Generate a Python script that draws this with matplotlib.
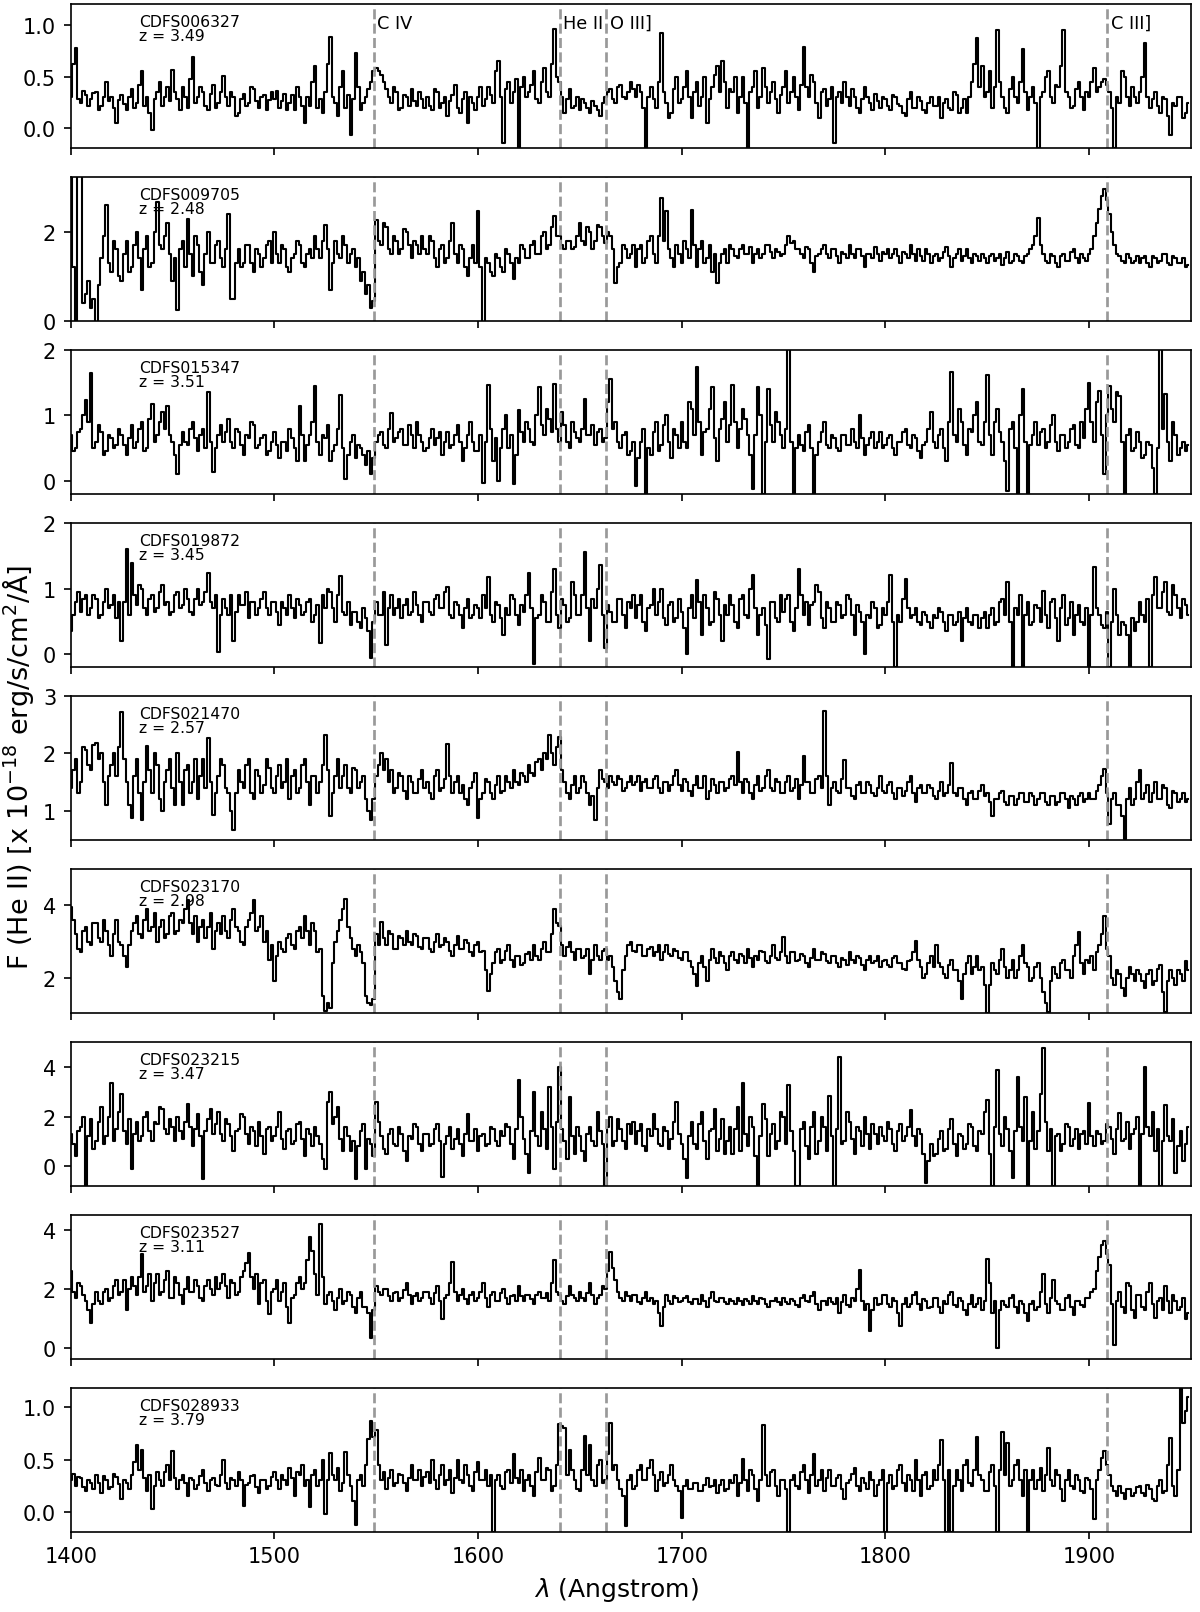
import matplotlib.pyplot as plt
import matplotlib.transforms as mtransforms
import numpy as np

# rest-frame spectra, 1.25 A bins starting at 1400 A
names = ['CDFS006327', 'CDFS009705', 'CDFS015347', 'CDFS019872', 'CDFS021470',
         'CDFS023170', 'CDFS023215', 'CDFS023527', 'CDFS028933']
redshifts = [3.49, 2.48, 3.51, 3.45, 2.57, 2.98, 3.47, 3.11, 3.79]
lam_start = 1400.0
lam_step = 1.25

line_waves = [1549, 1640, 1663, 1909]
line_names = ['C IV', 'He II', 'O III]', 'C III]']

f_006327 = [
    0.30, 0.62, 0.78, 0.28, 0.25, 0.36, 0.32, 0.22, 0.28, 0.34, 0.35, 0.18, 0.22, 0.30, 0.45, 0.26, 0.30, 0.20, 0.05, 0.27,
    0.32, 0.24, 0.18, 0.30, 0.38, 0.20, 0.25, 0.42, 0.55, 0.22, 0.30, 0.15, -0.02, 0.28, 0.35, 0.45, 0.22, 0.30, 0.40, 0.26,
    0.56, 0.35, 0.28, 0.18, 0.40, 0.30, 0.20, 0.48, 0.69, 0.25, 0.30, 0.40, 0.35, 0.22, 0.18, 0.33, 0.42, 0.20, 0.25, 0.35,
    0.51, 0.30, 0.22, 0.35, 0.30, 0.12, 0.15, 0.28, 0.33, 0.22, 0.25, 0.40, 0.38, 0.26, 0.20, 0.30, 0.32, 0.18, 0.27, 0.35,
    0.28, 0.36, 0.20, 0.26, 0.33, 0.18, 0.25, 0.32, 0.18, 0.40, 0.30, 0.22, 0.05, 0.30, 0.22, 0.45, 0.60, 0.20, 0.28, 0.15,
    0.35, 0.62, 0.88, 0.30, 0.25, 0.12, 0.40, 0.55, 0.20, 0.32, -0.06, 0.28, 0.73, 0.40, 0.18, 0.25, 0.30, 0.38, 0.45, 0.55,
    0.58, 0.55, 0.52, 0.45, 0.38, 0.30, 0.25, 0.40, 0.35, 0.18, 0.20, 0.32, 0.30, 0.22, 0.38, 0.26, 0.22, 0.35, 0.28, 0.20,
    0.30, 0.22, 0.18, 0.38, 0.35, 0.20, 0.25, 0.30, 0.12, 0.26, 0.32, 0.42, 0.20, 0.15, 0.28, 0.35, 0.05, 0.30, 0.25, 0.18,
    0.30, 0.40, 0.22, 0.28, 0.40, 0.32, 0.25, 0.55, 0.65, 0.30, -0.14, 0.38, 0.45, 0.25, 0.35, 0.48, -0.19, 0.40, 0.50, 0.30,
    0.35, 0.42, 0.55, 0.28, 0.25, 0.45, 0.58, 0.35, 0.30, 0.62, 0.96, 0.50, 0.45, 0.30, 0.15, 0.28, 0.38, 0.20, 0.22, 0.30,
    0.18, 0.28, 0.25, 0.20, 0.15, 0.26, 0.22, 0.18, 0.12, 0.25, 0.30, 0.35, 0.38, 0.28, 0.25, 0.40, 0.42, 0.30, 0.28, 0.35,
    0.45, 0.38, 0.30, 0.42, 0.35, 0.20, -0.19, 0.30, 0.40, 0.28, 0.20, 0.45, 0.92, 0.35, 0.25, 0.10, 0.15, 0.38, 0.50, 0.25,
    0.28, 0.40, 0.55, 0.30, 0.10, 0.35, 0.45, 0.22, 0.30, 0.50, 0.05, 0.28, 0.40, 0.52, 0.60, 0.35, 0.65, 0.45, 0.20, 0.38,
    0.35, 0.50, 0.15, 0.30, 0.50, 0.25, -0.19, 0.35, 0.40, 0.55, 0.20, 0.30, 0.58, 0.40, 0.25, 0.35, 0.45, 0.28, 0.15, 0.32,
    0.40, 0.55, 0.25, 0.35, 0.50, 0.30, 0.18, 0.42, 0.79, 0.40, 0.30, 0.52, 0.45, 0.25, 0.10, 0.35, 0.38, 0.22, 0.28, 0.40,
    -0.14, 0.30, 0.35, 0.25, 0.45, 0.30, 0.22, 0.38, 0.30, 0.20, 0.15, 0.28, 0.40, 0.30, 0.25, 0.18, 0.33, 0.26, 0.20, 0.30,
    0.28, 0.22, 0.18, 0.32, 0.30, 0.24, 0.22, 0.15, 0.12, 0.28, 0.35, 0.20, 0.20, 0.30, 0.26, 0.18, 0.15, 0.25, 0.30, 0.22,
    0.22, 0.30, 0.10, 0.25, 0.28, 0.20, 0.18, 0.35, 0.32, 0.15, 0.20, 0.28, 0.15, 0.30, 0.45, 0.62, 0.87, 0.40, 0.60, 0.30,
    0.35, 0.55, 0.20, 0.40, 0.95, 0.45, 0.30, 0.20, 0.15, 0.38, 0.50, 0.30, 0.25, 0.45, 0.77, 0.35, 0.18, 0.30, 0.40, 0.25,
    -0.19, 0.30, 0.35, 0.50, 0.55, 0.30, 0.25, 0.42, 0.40, 0.60, 0.95, 0.35, 0.30, 0.20, 0.22, 0.38, 0.45, 0.30, 0.18, 0.35,
    0.30, 0.45, 0.58, 0.35, 0.40, 0.45, 0.48, 0.42, 0.35, 0.20, -0.19, 0.30, 0.25, 0.55, 0.50, 0.30, 0.22, 0.40, 0.30, 0.25,
    0.35, 0.50, 0.82, 0.30, 0.20, 0.28, 0.35, 0.22, 0.15, 0.30, 0.28, 0.12, -0.06, 0.25, 0.22, 0.30, 0.30, 0.10, 0.15, 0.25]

f_009705 = [
    3.3, 1.2, 0.0, 3.5, 3.5, 0.4, 0.6, 0.9, 0.3, 0.5, -0.2, 0.8, 1.4, 1.9, 2.6, 1.3, 1.1, 1.8, 1.6, 1.0,
    0.9, 1.5, 1.8, 1.1, 1.2, 1.7, 2.0, 1.4, 0.7, 1.6, 1.9, 1.2, 1.3, 2.0, 2.65, 1.7, 1.6, 1.9, 2.2, 1.5,
    0.9, 1.4, 0.25, 1.6, 1.8, 1.2, 2.28, 1.5, 1.0, 1.9, 1.7, 1.1, 0.8, 1.5, 2.0, 1.3, 1.3, 1.7, 1.8, 1.4,
    1.2, 1.6, 2.4, 0.5, 0.5, 1.3, 1.6, 1.2, 1.3, 1.7, 1.7, 1.3, 1.1, 1.6, 1.5, 1.2, 1.4, 1.7, 1.8, 1.3,
    2.0, 1.5, 1.3, 1.7, 1.6, 1.2, 1.1, 1.4, 1.5, 1.8, 1.7, 1.3, 1.2, 1.5, 1.6, 1.4, 1.9, 1.6, 1.4, 1.8,
    2.15, 1.6, 0.7, 1.3, 1.8, 1.5, 1.4, 1.9, 1.7, 1.3, 1.5, 1.6, 1.2, 1.4, 0.9, 1.1, 0.6, 0.8, 0.3, 0.45,
    2.25, 1.8, 1.7, 2.2, 2.1, 1.6, 1.5, 1.9, 1.8, 1.5, 1.6, 2.05, 2.0, 1.7, 1.4, 1.8, 1.7, 1.5, 1.9, 1.6,
    1.5, 1.9, 1.8, 1.4, 1.2, 1.6, 1.7, 1.3, 1.4, 1.8, 2.2, 1.5, 1.3, 1.7, 1.6, 1.2, 1.0, 1.4, 1.7, 1.3,
    2.47, 1.2, -0.2, 1.4, 1.3, 1.1, 1.0, 1.5, 1.4, 1.2, 1.1, 1.6, 1.5, 1.3, 0.95, 1.4, 1.3, 1.7, 1.6, 1.4,
    1.4, 1.7, 1.8, 1.5, 1.5, 1.9, 2.0, 1.6, 1.7, 2.1, 2.35, 1.9, 1.9, 1.7, 1.6, 1.8, 1.8, 1.6, 1.65, 1.9,
    2.2, 1.8, 1.7, 2.1, 2.0, 1.6, 1.8, 2.15, 2.1, 1.9, 1.75, 2.0, 1.9, 1.6, 0.85, 1.2, 1.3, 1.7, 1.6, 1.4,
    1.5, 1.7, 1.2, 1.6, 1.7, 1.3, 1.4, 1.8, 1.9, 1.5, 1.3, 1.9, 2.74, 1.8, 2.47, 1.6, 1.4, 1.2, 1.7, 1.5,
    1.3, 1.8, 1.6, 1.4, 2.49, 1.7, 1.2, 1.6, 1.8, 1.3, 1.4, 1.7, 1.1, 1.5, 0.85, 1.3, 1.5, 1.6, 1.3, 1.7,
    1.6, 1.45, 1.4, 1.6, 1.7, 1.5, 1.5, 1.65, 1.3, 1.5, 1.6, 1.4, 1.5, 1.7, 1.7, 1.55, 1.4, 1.6, 1.55, 1.45,
    1.5, 1.7, 1.9, 1.75, 1.8, 1.6, 1.6, 1.5, 1.4, 1.65, 1.6, 1.3, 1.1, 1.45, 1.5, 1.6, 1.7, 1.5, 1.4, 1.6,
    1.6, 1.45, 1.3, 1.55, 1.5, 1.4, 1.7, 1.5, 1.4, 1.6, 1.6, 1.45, 1.2, 1.5, 1.5, 1.4, 1.65, 1.5, 1.35, 1.55,
    1.5, 1.6, 1.4, 1.5, 1.6, 1.45, 1.3, 1.55, 1.5, 1.4, 1.7, 1.5, 1.35, 1.6, 1.45, 1.35, 1.6, 1.5, 1.3, 1.45,
    1.5, 1.35, 1.4, 1.55, 1.65, 1.45, 1.2, 1.4, 1.5, 1.6, 1.35, 1.45, 1.6, 1.4, 1.3, 1.5, 1.45, 1.35, 1.5, 1.4,
    1.3, 1.45, 1.5, 1.35, 1.4, 1.5, 1.25, 1.4, 1.55, 1.3, 1.35, 1.5, 1.45, 1.35, 1.3, 1.45, 1.5, 1.6, 1.7, 1.9,
    2.3, 1.7, 1.5, 1.35, 1.3, 1.5, 1.45, 1.3, 1.2, 1.45, 1.5, 1.35, 1.35, 1.55, 1.6, 1.4, 1.3, 1.5, 1.4, 1.35,
    1.5, 1.6, 1.9, 2.2, 2.5, 2.8, 2.96, 2.7, 2.4, 2.0, 1.7, 1.5, 1.45, 1.35, 1.3, 1.5, 1.4, 1.3, 1.35, 1.45,
    1.3, 1.4, 1.45, 1.3, 1.2, 1.45, 1.4, 1.3, 1.35, 1.5, 1.5, 1.3, 1.25, 1.45, 1.4, 1.3, 1.3, 1.4, 1.2, 1.25]

f_015347 = [
    0.7, 0.45, 0.5, 0.75, 0.8, 1.0, 1.23, 0.9, 1.64, 0.5, 0.6, 0.85, 0.75, 0.4, 0.45, 0.7, 0.65, 0.5, 0.55, 0.8,
    0.7, 0.55, 0.4, 0.65, 0.85, 0.5, 0.6, 0.8, 0.9, 0.45, 0.5, 0.95, 1.18, 0.6, 0.7, 0.9, 1.05, 0.8, 1.15, 0.7,
    0.6, 0.4, 0.1, 0.55, 0.75, 0.6, 0.55, 0.8, 0.9, 0.65, 0.45, 0.7, 0.8, 0.5, 1.36, 0.6, 0.13, 0.5, 0.7, 0.85,
    0.6, 0.75, 0.95, 0.6, 0.5, 0.8, 0.75, 0.55, 0.4, 0.7, 0.65, 0.9, 0.85, 0.5, 0.55, 0.65, 0.7, 0.4, 0.45, 0.6,
    0.75, 0.55, 0.35, 0.6, 0.6, 0.45, 0.8, 0.65, 0.5, 0.3, 1.15, 0.7, 0.3, 0.55, 0.7, 0.9, 1.45, 0.6, 0.4, 0.7,
    0.65, 0.85, 0.3, 0.45, 0.55, 0.8, 1.31, 0.5, 0.03, 0.4, 0.6, 0.7, 0.35, 0.55, 0.5, 0.4, 0.25, 0.45, 0.1, 0.35,
    0.6, 0.7, 0.75, 0.55, 0.5, 0.8, 1.03, 0.6, 0.65, 0.75, 0.8, 0.55, 0.55, 0.85, 0.7, 0.5, 0.9, 0.7, 0.6, 0.45,
    0.5, 0.65, 0.8, 0.55, 0.65, 0.75, 0.4, 0.6, 0.75, 0.5, 0.55, 0.7, 0.85, 0.6, 0.3, 0.5, 0.7, 0.9, 0.6, 0.45,
    0.45, 0.7, -0.03, 0.6, 1.46, 0.8, 0.3, 0.65, 0.0, 0.5, 0.8, 1.0, 0.5, 0.7, -0.05, 0.4, 1.08, 0.75, 0.6, 0.9,
    0.8, 0.6, 0.55, 1.0, 1.44, 0.85, 0.7, 1.1, 0.95, 0.75, 1.48, 0.8, 0.6, 1.05, 0.85, 0.6, 0.5, 0.9, 0.75, 0.65,
    0.6, 0.8, 1.25, 0.7, 0.7, 0.85, 0.55, 0.75, 0.8, 0.6, 0.65, 1.2, 1.55, 0.8, 0.9, 0.6, 0.5, 0.7, 0.75, 0.4,
    0.45, 0.6, -0.08, 0.35, 0.6, 0.8, -0.2, 0.5, 0.4, 0.75, 0.9, 0.45, 0.55, 0.85, 1.0, 0.6, 0.35, 0.8, 0.7, 0.5,
    0.9, 0.6, 0.5, 1.2, 1.1, 0.7, 1.74, 0.9, 0.4, 0.75, 0.8, 1.1, 1.44, 0.65, 0.3, 0.8, 0.95, 1.2, 0.6, 0.85,
    1.46, 0.9, 0.5, 0.8, 1.1, 0.95, 0.7, 0.4, -0.13, 0.7, 1.44, 1.0, -0.2, 0.6, 1.4, 0.85, 0.6, 1.05, 0.9, 0.7,
    0.5, 0.8, 2.05, 0.6, -0.2, 0.5, 0.7, 0.55, 0.45, 0.75, 0.85, 0.5, -0.2, 0.4, 0.6, 0.75, 0.9, 0.55, 0.5, 0.7,
    0.65, 0.5, 0.45, 0.7, 0.7, 0.55, 0.55, 0.8, 0.6, 0.5, 1.0, 0.65, 0.4, 0.55, 0.65, 0.75, 0.5, 0.6, 0.75, 0.5,
    0.55, 0.65, 0.7, 0.5, 0.4, 0.6, 0.6, 0.75, 0.8, 0.55, 0.5, 0.7, 0.65, 0.45, 0.35, 0.55, 0.6, 0.8, 1.05, 0.6,
    0.5, 0.7, 0.8, 0.5, 0.3, 0.9, 1.67, 0.7, 0.6, 1.1, 0.9, 0.55, 0.4, 0.8, 0.75, 1.0, 1.2, 0.6, 0.55, 0.9,
    1.62, 0.7, 0.4, 0.9, 1.1, 0.75, 0.6, 0.3, -0.15, 0.8, 0.9, 0.5, -0.2, 1.0, 1.41, 0.6, -0.2, 0.55, 0.7, 0.9,
    0.55, 0.75, 0.8, 0.5, 0.6, 0.85, 1.0, 0.6, 0.45, 0.7, 0.7, 0.5, 0.6, 0.8, 0.85, 0.55, 0.5, 0.9, 0.65, 1.1,
    1.5, 0.9, 0.6, 1.2, 1.38, 0.7, 0.1, 1.0, 1.45, 1.1, 0.9, 1.35, 1.3, 0.6, -0.2, 0.7, 0.8, 0.45, 0.5, 0.75,
    0.6, 0.35, 0.4, 0.6, 0.55, 0.2, -0.2, 0.5, 2.05, 0.8, 1.33, 0.6, 0.3, 0.9, 0.7, 0.4, 0.5, 0.6, 0.45, 0.55]

f_019872 = [
    0.35, 0.6, 0.8, 0.95, 0.65, 0.85, 0.9, 0.6, 0.7, 0.9, 0.85, 0.55, 0.6, 0.8, 1.0, 0.7, 0.75, 0.9, 0.55, 0.8,
    0.2, 0.8, 1.61, 0.6, 1.39, 0.9, 0.75, 1.05, 1.0, 0.7, 0.6, 0.85, 0.9, 0.65, 0.7, 0.95, 1.05, 0.75, 0.8, 0.6,
    0.65, 0.9, 0.95, 0.7, 0.75, 1.0, 0.85, 0.65, 0.6, 0.85, 1.0, 0.75, 0.8, 0.95, 1.24, 0.8, 0.7, 0.9, 0.04, 0.6,
    0.85, 0.7, 0.6, 0.9, 0.21, 0.65, 0.9, 0.75, 0.75, 0.95, 0.55, 0.8, 0.8, 0.6, 0.7, 0.85, 0.95, 0.7, 0.6, 0.8,
    0.8, 0.65, 0.45, 0.8, 0.7, 0.6, 0.9, 0.7, 0.55, 0.85, 0.75, 0.6, 0.65, 0.8, 0.85, 0.5, 0.6, 0.75, 0.17, 0.9,
    0.7, 1.0, 0.95, 0.7, 0.5, 0.9, 1.19, 0.65, 0.6, 0.8, 0.45, 0.65, 0.65, 0.5, 0.4, 0.7, 0.55, 0.35, -0.05, 0.5,
    0.8, 0.6, 0.6, 0.95, 0.14, 0.7, 0.9, 0.6, 0.7, 0.85, 0.55, 0.75, 0.85, 0.6, 0.65, 0.95, 0.75, 0.6, 0.5, 0.8,
    0.8, 0.65, 0.6, 0.85, 0.9, 0.7, 0.7, 0.95, 1.03, 0.6, 0.55, 0.8, 0.75, 0.6, 0.4, 0.7, 0.85, 0.55, 0.6, 0.75,
    0.7, 0.55, 0.9, 0.7, 1.18, 0.6, 0.5, 0.8, 0.75, 0.55, 0.3, 0.7, 0.6, 0.9, 0.85, 0.6, 0.45, 0.75, 0.65, 0.9,
    1.24, 0.7, -0.14, 0.55, 0.6, 0.9, 0.8, 0.5, 0.5, 0.95, 1.3, 0.6, 0.4, 0.85, 0.75, 0.5, 0.55, 1.1, 0.9, 0.6,
    0.6, 0.9, 1.56, 0.7, 0.2, 0.85, 0.7, 1.0, 1.36, 0.6, 0.1, 0.75, 0.65, 0.5, 0.5, 0.85, 0.85, 0.6, 0.4, 0.8,
    0.7, 0.9, 0.55, 0.75, 0.9, 0.5, 0.35, 0.7, 0.75, 1.0, 0.6, 0.8, 1.0, 0.55, 0.45, 0.75, 0.8, 0.5, 0.55, 0.85,
    0.65, 0.4, 0.0, 0.7, 0.9, 0.55, 1.13, 0.8, 0.3, 0.9, 0.7, 0.45, 0.5, 0.95, 0.85, 0.6, 0.2, 0.75, 0.6, 0.9,
    0.75, 0.5, 0.4, 0.85, 0.9, 0.6, 0.55, 1.0, 1.2, 0.7, 0.3, 0.6, 0.7, 0.45, -0.07, 0.8, 0.8, 0.55, 0.5, 0.9,
    0.65, 0.85, 0.9, 0.5, 0.35, 0.7, 1.3, 0.9, 0.6, 0.8, 0.45, 0.75, 0.8, 1.05, 0.95, 0.55, 0.4, 0.8, 0.7, 0.5,
    0.5, 0.8, 0.75, 0.55, 0.6, 0.9, 0.85, 0.6, 0.3, 0.75, 0.65, 0.5, 0.0, 0.6, 0.55, 0.8, 0.7, 0.4, 0.45, 0.7,
    0.6, 0.8, 1.2, 0.5, -0.19, 0.6, 0.5, 0.85, 1.15, 0.7, 0.55, 0.6, 0.7, 0.5, 0.45, 0.65, 0.6, 0.5, 0.4, 0.6,
    0.55, 0.7, 0.65, 0.5, 0.35, 0.6, 0.6, 0.45, 0.5, 0.65, 0.2, 0.55, 0.7, 0.5, 0.45, 0.6, 0.6, 0.4, 0.55, 0.65,
    0.4, 0.6, 0.7, 0.45, 0.5, 0.8, 0.85, 0.6, 1.1, 0.5, -0.19, 0.7, 0.6, 0.9, -0.19, 0.6, 0.8, 0.45, 0.5, 0.75,
    0.7, 0.5, 0.97, 0.6, 0.4, 0.8, 0.85, 0.55, 0.2, 0.7, 0.9, 0.45, 0.55, 0.8, 0.3, 0.6, 0.75, 0.5, 0.45, 0.7,
    -0.19, 0.6, 1.33, 0.7, 0.6, 0.45, 0.4, 0.65, -0.19, 0.5, 1.0, 0.6, 0.3, 0.5, 0.45, 0.3, -0.19, 0.55, 0.35, 0.5,
    0.8, 0.6, 0.5, 0.85, -0.19, 0.9, 1.18, 0.7, 0.7, 0.95, 1.1, 0.65, 0.6, 1.05, 0.9, 0.7, 0.55, 0.85, 0.75, 0.6]

f_021470 = [
    1.4, 1.7, 1.9, 1.3, 1.5, 2.1, 2.05, 1.8, 1.7, 2.15, 2.18, 1.9, 2.0, 1.5, 1.1, 1.6, 1.8, 2.0, 1.6, 2.1,
    2.72, 1.9, 1.5, 1.1, 0.87, 1.6, 1.9, 1.3, 0.84, 1.5, 2.12, 1.7, 1.3, 2.0, 1.8, 1.2, 1.0, 1.5, 1.7, 1.9,
    1.4, 1.1, 2.0, 1.5, 1.1, 1.7, 1.8, 1.3, 1.5, 1.9, 1.2, 1.6, 1.9, 1.4, 2.27, 1.5, 0.93, 1.3, 1.6, 1.9,
    1.8, 1.4, 1.3, 1.0, 0.67, 1.3, 1.7, 1.5, 1.4, 1.8, 1.9, 1.3, 1.2, 1.7, 1.6, 1.3, 1.45, 1.9, 1.75, 1.4,
    1.3, 1.6, 1.8, 1.4, 1.5, 1.9, 1.2, 1.6, 1.7, 1.3, 1.4, 1.8, 1.9, 1.5, 1.1, 1.6, 1.6, 1.3, 1.5, 1.8,
    2.31, 1.7, 0.9, 1.3, 1.6, 1.9, 1.4, 1.6, 1.8, 1.4, 1.3, 1.75, 1.7, 1.4, 1.5, 1.6, 1.2, 1.0, 0.84, 1.2,
    1.6, 1.8, 2.0, 1.7, 1.9, 1.5, 1.7, 1.3, 1.4, 1.65, 1.6, 1.35, 1.2, 1.6, 1.5, 1.3, 1.3, 1.55, 1.7, 1.4,
    1.5, 1.3, 1.2, 1.6, 1.7, 1.35, 1.4, 1.55, 2.16, 1.6, 1.3, 1.5, 1.6, 1.3, 1.45, 1.2, 1.1, 1.4, 1.5, 1.65,
    0.87, 1.2, 1.3, 1.55, 1.5, 1.3, 1.2, 1.45, 1.6, 1.3, 1.35, 1.6, 1.5, 1.4, 1.7, 1.5, 1.45, 1.65, 1.6, 1.5,
    1.8, 1.65, 1.6, 1.85, 1.9, 1.7, 2.0, 1.9, 2.31, 2.0, 1.8, 2.1, 2.28, 1.7, 1.5, 1.3, 1.2, 1.45, 1.6, 1.3,
    1.4, 1.6, 1.5, 1.3, 1.1, 1.25, 0.84, 1.4, 1.7, 1.55, 1.5, 1.4, 1.6, 1.5, 1.45, 1.6, 1.55, 1.35, 1.4, 1.5,
    1.6, 1.45, 1.5, 1.6, 1.35, 1.5, 1.55, 1.4, 1.4, 1.55, 1.6, 1.4, 1.3, 1.5, 1.5, 1.35, 1.45, 1.6, 1.7, 1.45,
    1.35, 1.55, 1.5, 1.35, 1.25, 1.45, 1.6, 1.4, 1.4, 1.6, 1.2, 1.35, 1.55, 1.45, 1.3, 1.5, 1.5, 1.35, 1.4, 1.55,
    1.6, 1.45, 2.02, 1.5, 1.3, 1.55, 1.5, 1.3, 1.2, 1.45, 1.6, 1.35, 1.4, 1.6, 1.7, 1.4, 1.35, 1.55, 1.5, 1.3,
    1.3, 1.5, 1.6, 1.35, 1.4, 1.55, 1.2, 1.45, 1.95, 1.5, 1.5, 1.3, 1.3, 1.55, 1.6, 1.4, 2.74, 1.6, 1.1, 1.4,
    1.5, 1.35, 1.3, 1.55, 1.89, 1.4, 1.4, 1.25, 1.2, 1.45, 1.5, 1.3, 1.3, 1.5, 1.45, 1.3, 1.25, 1.4, 1.6, 1.35,
    1.3, 1.45, 1.5, 1.3, 1.2, 1.4, 1.4, 1.25, 1.35, 1.5, 1.6, 1.3, 1.15, 1.4, 1.45, 1.3, 1.3, 1.45, 1.4, 1.25,
    1.2, 1.35, 1.5, 1.25, 1.3, 1.45, 1.83, 1.3, 1.25, 1.4, 1.4, 1.2, 1.1, 1.3, 1.35, 1.2, 1.2, 1.35, 1.45, 1.25,
    1.3, 1.15, 0.9, 1.2, 1.2, 1.3, 1.35, 1.15, 1.1, 1.25, 1.25, 1.1, 1.2, 1.3, 1.3, 1.15, 1.15, 1.3, 1.25, 1.1,
    1.2, 1.3, 1.3, 1.15, 1.1, 1.25, 1.25, 1.1, 1.15, 1.3, 1.3, 1.2, 1.05, 1.25, 1.2, 1.1, 1.25, 1.3, 1.15, 1.2,
    1.3, 1.2, 1.2, 1.35, 1.45, 1.6, 1.72, 1.3, 0.76, 1.2, 1.3, 1.1, 1.1, 0.9, 0.51, 1.2, 1.4, 1.1, 1.2, 1.5,
    1.7, 1.2, 1.3, 1.45, 1.15, 1.3, 1.5, 1.2, 1.2, 1.45, 1.4, 1.1, 1.05, 1.35, 1.3, 1.15, 1.2, 1.3, 1.15, 1.2]

f_023170 = [
    3.95, 3.6, 3.2, 2.8, 2.7, 3.3, 3.4, 3.0, 2.9, 3.5, 3.5, 3.1, 3.0, 3.6, 3.3, 2.9, 2.6, 3.2, 3.6, 3.0,
    2.9, 2.6, 2.28, 2.9, 3.3, 3.5, 3.7, 3.2, 3.1, 3.6, 3.9, 3.3, 3.4, 3.8, 3.0, 3.4, 3.6, 3.1, 3.2, 3.7,
    3.8, 3.2, 3.3, 3.6, 3.5, 3.9, 4.14, 3.5, 3.2, 3.7, 3.0, 3.4, 3.6, 3.1, 3.4, 3.8, 2.8, 3.3, 3.5, 3.2,
    3.7, 3.3, 3.1, 3.6, 3.9, 3.4, 3.3, 3.0, 2.9, 3.4, 3.6, 3.8, 4.14, 3.3, 3.4, 3.7, 3.0, 3.3, 2.5, 2.9,
    1.9, 2.6, 3.0, 2.8, 2.7, 3.1, 3.2, 2.9, 2.8, 3.3, 3.4, 3.1, 3.7, 3.3, 2.9, 3.5, 3.3, 2.7, 2.8, 1.5,
    1.07, 1.3, 1.15, 2.4, 3.0, 3.3, 3.6, 3.9, 4.17, 3.4, 3.1, 2.8, 2.6, 2.9, 2.7, 2.4, 1.5, 1.3, 1.23, 1.4,
    3.2, 2.9, 3.53, 3.1, 2.9, 3.3, 3.2, 2.8, 2.8, 3.15, 3.1, 2.9, 3.3, 3.0, 2.9, 3.2, 3.15, 2.85, 2.8, 3.1,
    3.1, 2.8, 2.7, 3.0, 3.2, 2.85, 2.9, 3.1, 3.0, 2.75, 2.6, 2.9, 3.15, 2.8, 2.8, 3.05, 2.95, 2.7, 2.6, 2.9,
    3.0, 2.7, 2.75, 2.2, 1.63, 2.1, 2.4, 2.7, 2.8, 2.4, 2.5, 2.75, 2.9, 2.5, 2.3, 2.6, 2.6, 2.35, 2.4, 2.65,
    2.7, 2.5, 2.9, 2.6, 2.5, 2.8, 3.0, 2.7, 2.7, 3.2, 3.9, 3.5, 3.44, 2.9, 2.6, 2.85, 3.0, 2.7, 2.5, 2.8,
    2.8, 2.55, 2.6, 2.8, 2.09, 2.5, 2.9, 2.6, 2.5, 2.75, 2.8, 2.5, 2.6, 2.3, 1.9, 1.6, 1.4, 2.2, 2.6, 2.9,
    3.0, 2.75, 2.7, 2.9, 2.9, 2.6, 2.6, 2.8, 2.85, 2.6, 2.7, 2.9, 2.5, 2.7, 2.9, 2.65, 2.6, 2.8, 2.75, 2.55,
    2.5, 2.7, 2.7, 2.45, 2.3, 2.1, 1.77, 2.4, 2.6, 2.3, 1.9, 2.5, 2.8, 2.55, 2.4, 2.7, 2.6, 2.4, 2.2, 2.6,
    2.7, 2.5, 2.4, 2.65, 2.6, 2.4, 2.8, 2.55, 2.3, 2.6, 2.5, 2.75, 2.7, 2.45, 2.4, 2.6, 2.9, 2.55, 2.5, 2.7,
    3.12, 2.6, 2.4, 2.7, 2.7, 2.45, 2.5, 2.65, 2.6, 2.4, 2.3, 2.55, 2.8, 2.5, 2.5, 2.7, 2.65, 2.45, 2.4, 2.6,
    2.6, 2.4, 2.3, 2.55, 2.5, 2.35, 2.7, 2.5, 2.4, 2.6, 2.55, 2.35, 2.2, 2.5, 2.6, 2.4, 2.45, 2.6, 2.3, 2.45,
    2.5, 2.35, 2.3, 2.55, 2.6, 2.4, 2.4, 2.25, 2.2, 2.45, 2.5, 2.7, 3.02, 2.5, 2.3, 2.0, 2.1, 2.4, 2.6, 2.3,
    2.9, 2.4, 2.3, 2.1, 2.0, 2.35, 2.5, 2.2, 2.2, 1.9, 1.4, 2.1, 2.4, 2.6, 2.1, 2.3, 2.6, 2.2, 2.3, 1.8,
    1.02, 1.8, 2.4, 2.2, 2.1, 2.5, 2.8, 2.3, 2.0, 2.2, 2.5, 2.0, 2.2, 2.6, 2.9, 2.4, 2.3, 1.9, 2.0, 2.3,
    2.4, 2.0, 1.6, 1.3, 1.05, 1.9, 2.3, 2.1, 2.0, 2.4, 2.5, 2.2, 2.2, 2.0, 2.6, 2.9, 3.26, 2.4, 2.1, 2.5,
    2.4, 2.6, 2.2, 2.7, 2.9, 3.2, 3.7, 2.8, 2.6, 2.0, 1.8, 2.2, 2.1, 1.7, 1.5, 2.0, 2.3, 2.1, 1.9, 2.2,
    2.1, 1.9, 1.7, 2.1, 2.2, 1.8, 1.9, 2.25, 2.35, 1.6, 1.05, 1.9, 2.2, 2.0, 1.8, 2.2, 2.1, 1.9, 2.47, 2.2]

f_023215 = [
    1.3, 0.9, 0.4, 1.4, 1.6, 2.0, -0.8, 1.2, 1.9, 0.7, 1.0, 1.8, 2.4, 0.9, 1.2, 2.0, 3.38, 1.0, 1.5, 2.2,
    2.92, 1.4, 0.9, 1.9, -0.1, 1.3, 1.8, 1.0, 1.2, 2.0, 2.2, 1.4, 1.0, 1.8, 1.7, 2.4, 2.3, 1.5, 1.3, 1.9,
    1.6, 1.0, 2.0, 1.4, 1.1, 1.8, 2.5, 1.6, 0.8, 1.5, 2.1, 1.2, -0.54, 1.4, 1.9, 2.3, 1.3, 1.7, 2.2, 1.3,
    1.0, 1.9, 1.7, 1.2, 0.6, 1.4, 1.5, 2.1, 2.0, 1.3, 0.9, 1.6, 1.4, 0.8, 1.8, 1.2, 0.5, 1.5, 1.6, 1.0,
    1.2, 1.6, 2.2, 1.1, 0.7, 1.4, 1.5, 0.9, 1.0, 1.7, 1.8, 1.1, 0.4, 1.5, 1.3, 0.8, 1.6, 1.2, 0.9, 0.3,
    -0.14, 2.6, 3.0, 1.7, 2.0, 2.4, 1.1, 0.6, 1.6, 1.2, 0.6, 1.0, -0.54, 0.8, 1.4, 1.7, -0.1, 1.1, 0.9, 0.4,
    2.6, 1.8, 1.2, 0.7, 0.5, 1.3, 1.5, 0.9, 0.8, 1.6, 1.3, 0.6, 0.2, 1.2, 1.1, 1.7, 1.6, 0.9, 0.6, 1.3,
    1.3, 0.8, 0.9, 1.5, 1.7, 1.0, -0.43, 0.9, 1.2, 1.6, 0.7, 1.1, 1.5, 0.9, 0.4, 1.3, 2.1, 1.0, 1.0, 1.5,
    0.6, 1.2, 1.3, 0.8, 0.9, 1.6, 1.5, 1.0, 0.8, 1.4, 1.2, 1.7, 1.6, 0.9, 0.3, 1.5, 3.49, 2.0, 1.1, 0.5,
    -0.3, 1.4, 3.0, 1.2, 0.8, 2.2, 1.5, 0.7, 3.2, 1.6, -0.1, 1.8, 4.03, 1.5, 1.0, 0.3, 2.81, 1.2, 0.5, 1.6,
    1.2, 0.6, 0.2, 1.3, 1.6, 1.0, 0.8, 2.2, 1.4, 0.9, -0.8, 1.6, 2.0, 0.8, 1.0, 1.9, 1.5, 1.0, 0.7, 1.7,
    1.3, 1.8, 0.9, 1.4, 1.7, 0.8, 0.6, 1.5, 1.2, 2.1, 1.5, 0.9, 0.8, 1.6, 1.4, 0.7, 1.1, 1.8, 2.6, 1.3,
    0.9, 0.3, -0.5, 1.2, 1.8, 0.9, 0.7, 1.7, 2.2, 1.0, 0.3, 1.4, 1.5, 2.3, 0.6, 1.1, 1.9, 0.5, 1.0, 1.6,
    0.5, 1.5, 2.4, 0.6, 3.38, 1.3, 0.8, 2.0, 1.6, 0.4, -0.8, 1.2, 2.5, 1.9, 0.4, 1.3, 1.7, 0.7, 1.0, 2.2,
    2.0, 0.9, 3.28, 1.4, 0.6, -0.8, -0.8, 1.5, 1.8, 0.8, 0.3, 1.6, 2.2, 0.5, 1.0, 2.0, 1.6, 0.6, 2.84, 1.2,
    -0.8, 1.5, 4.4, 0.9, 1.0, 2.2, 1.8, 1.1, 0.5, 1.6, 1.4, 0.8, 2.0, 1.3, 0.7, 1.7, 1.3, 0.9, 1.6, 1.2,
    1.0, 1.8, 1.5, 0.9, 0.6, 1.4, 1.7, 1.0, 1.2, 1.6, 2.27, 1.2, 0.8, 1.5, 1.3, 0.5, -0.7, 0.2, 0.9, 0.4,
    0.5, 1.1, 1.4, 0.6, 0.7, 1.5, 1.9, 0.9, 0.4, 1.3, 1.2, 0.7, 0.9, 1.7, 1.6, 0.8, 0.6, 1.4, 1.3, 2.2,
    2.68, 0.5, -0.8, 1.6, 3.9, 1.3, 0.8, 2.0, 1.5, 0.6, -0.5, 1.4, 3.62, 1.6, 1.0, 2.8, -0.8, 1.0, 2.2, 0.7,
    1.4, 2.9, 4.77, 1.8, 0.6, 1.5, -0.8, 1.2, 1.3, 0.6, 0.9, 1.7, 1.6, 0.8, 1.1, 1.5, 0.7, 1.3, 1.4, 0.9,
    2.54, 1.2, 0.8, 1.4, 1.3, 0.9, 1.0, 1.7, 1.6, 1.1, 0.5, 1.5, 2.14, 1.0, 1.1, 1.8, 0.7, 1.3, 1.5, 2.0,
    -0.8, 1.3, 4.03, 1.6, 1.2, 2.2, 0.6, 1.5, -0.8, 1.0, 2.47, 1.2, 1.0, 1.9, -0.3, 0.8, 1.4, 0.2, 0.9, 1.6]

f_023527 = [
    2.6, 1.9, 1.7, 2.2, 2.1, 1.8, 1.6, 1.3, 0.86, 1.5, 1.9, 1.6, 1.5, 1.9, 2.0, 1.6, 1.7, 2.1, 2.3, 1.8,
    1.9, 2.3, 1.3, 2.0, 2.4, 2.1, 1.8, 2.4, 3.2, 1.9, 2.1, 2.5, 1.6, 2.2, 2.5, 1.8, 1.9, 2.3, 2.6, 1.7,
    1.7, 2.4, 2.2, 1.8, 1.5, 2.0, 2.4, 1.9, 1.9, 2.3, 2.1, 1.7, 1.6, 2.1, 2.3, 2.0, 1.8, 2.4, 2.0, 2.2,
    2.5, 2.1, 1.7, 2.3, 2.2, 1.8, 1.9, 2.4, 2.6, 2.9, 3.22, 2.4, 2.0, 2.5, 1.5, 2.2, 2.3, 1.6, 1.14, 1.9,
    2.0, 2.3, 1.6, 1.9, 2.2, 1.4, 0.86, 1.7, 1.8, 2.2, 2.4, 2.0, 2.2, 3.0, 3.77, 3.3, 2.5, 1.8, 4.2, 2.4,
    1.5, 1.8, 1.9, 1.6, 1.3, 1.7, 2.0, 1.5, 1.6, 1.9, 1.8, 1.4, 1.2, 1.7, 1.9, 1.4, 1.4, 1.2, 0.34, 1.3,
    2.1, 1.9, 1.8, 2.0, 2.0, 1.75, 1.6, 1.85, 1.9, 1.6, 1.7, 1.95, 2.2, 1.8, 1.5, 1.75, 1.85, 1.6, 1.7, 1.9,
    1.9, 1.7, 1.5, 1.85, 2.1, 1.6, 0.97, 1.7, 1.8, 2.2, 2.91, 1.9, 1.6, 1.8, 2.0, 1.65, 1.5, 1.8, 1.9, 1.6,
    1.7, 1.9, 2.2, 1.7, 1.4, 1.8, 1.9, 1.6, 1.6, 1.85, 2.0, 1.7, 1.5, 1.75, 1.8, 1.6, 2.1, 1.75, 1.6, 1.8,
    1.8, 1.65, 1.5, 1.8, 1.9, 1.7, 1.7, 1.85, 1.6, 2.2, 2.97, 1.9, 1.8, 1.6, 1.5, 1.75, 2.1, 1.8, 1.7, 1.6,
    1.9, 1.7, 1.6, 1.85, 2.2, 1.8, 1.5, 1.7, 1.8, 2.1, 2.0, 2.6, 3.26, 2.7, 2.3, 1.9, 1.7, 1.6, 1.9, 1.75,
    1.6, 1.8, 1.8, 1.55, 1.5, 1.7, 1.9, 1.6, 1.7, 1.5, 1.6, 1.2, 0.74, 1.4, 1.8, 1.6, 1.5, 1.75, 1.7, 1.55,
    1.6, 1.7, 1.75, 1.55, 1.5, 1.65, 1.65, 1.5, 1.8, 1.6, 1.4, 1.7, 1.9, 1.6, 1.55, 1.7, 1.7, 1.55, 1.5, 1.65,
    1.6, 1.5, 1.7, 1.6, 1.45, 1.65, 1.6, 1.5, 1.75, 1.6, 1.5, 1.7, 1.65, 1.5, 1.4, 1.6, 1.6, 1.7, 1.55, 1.45,
    1.7, 1.55, 1.5, 1.65, 1.6, 1.45, 1.4, 1.7, 1.8, 1.6, 1.55, 1.75, 1.9, 1.5, 1.3, 1.6, 1.6, 1.45, 1.7, 1.55,
    1.5, 1.7, 1.2, 1.55, 1.8, 1.45, 1.4, 1.7, 1.6, 2.0, 2.63, 1.6, 1.3, 1.5, 0.57, 1.3, 1.7, 1.45, 1.5, 1.8,
    1.8, 1.5, 1.4, 1.7, 1.6, 1.2, 0.74, 1.5, 1.7, 1.4, 1.5, 1.8, 1.9, 1.5, 1.3, 1.65, 1.6, 1.35, 1.4, 1.7,
    1.7, 1.4, 1.2, 1.6, 1.5, 1.8, 1.9, 1.45, 1.4, 1.7, 1.6, 1.3, 1.1, 1.5, 1.8, 1.4, 1.5, 1.7, 1.3, 1.6,
    3.03, 2.2, 1.2, 1.6, 0.0, 1.3, 1.6, 1.45, 1.4, 1.7, 1.8, 1.4, 1.2, 1.6, 1.5, 1.2, 0.9, 1.5, 1.6, 1.3,
    1.4, 1.9, 2.51, 1.5, 1.2, 1.7, 2.3, 1.6, 1.5, 1.3, 1.3, 1.7, 1.8, 1.4, 1.1, 1.6, 1.6, 1.45, 1.4, 1.7,
    1.7, 1.9, 2.0, 2.6, 3.1, 3.5, 3.63, 3.2, 2.8, 1.5, 0.11, 1.6, 1.9, 1.4, 1.2, 2.2, 2.1, 1.3, 1.0, 1.8,
    1.8, 1.4, 1.3, 1.9, 2.2, 1.5, 1.0, 1.6, 1.7, 1.3, 2.1, 1.6, 1.2, 1.8, 1.6, 1.3, 1.4, 1.7, 0.97, 1.2]

f_028933 = [
    0.30, 0.36, 0.25, 0.33, 0.32, 0.24, 0.20, 0.30, 0.28, 0.22, 0.35, 0.28, 0.18, 0.34, 0.30, 0.22, 0.24, 0.36, 0.33, 0.27,
    0.12, 0.30, 0.28, 0.22, 0.35, 0.48, 0.64, 0.40, 0.59, 0.32, 0.20, 0.35, 0.03, 0.25, 0.38, 0.30, 0.25, 0.38, 0.45, 0.30,
    0.58, 0.32, 0.22, 0.30, 0.35, 0.28, 0.15, 0.32, 0.30, 0.22, 0.26, 0.34, 0.40, 0.28, 0.20, 0.30, 0.32, 0.26, 0.25, 0.35,
    0.50, 0.28, 0.22, 0.32, 0.30, 0.25, 0.38, 0.30, 0.06, 0.26, 0.28, 0.34, 0.35, 0.24, 0.18, 0.30, 0.30, 0.22, 0.25, 0.33,
    0.38, 0.30, 0.22, 0.35, 0.30, 0.26, 0.42, 0.32, 0.15, 0.38, 0.35, 0.45, 0.25, 0.30, 0.05, 0.35, 0.40, 0.25, 0.30, 0.50,
    -0.02, 0.30, 0.56, 0.35, 0.30, 0.42, 0.20, 0.28, 0.57, 0.35, 0.25, 0.10, -0.13, 0.30, 0.35, 0.25, 0.45, 0.70, 0.87, 0.72,
    0.78, 0.45, 0.30, 0.38, 0.22, 0.32, 0.40, 0.25, 0.28, 0.36, 0.35, 0.28, 0.20, 0.32, 0.45, 0.30, 0.30, 0.40, 0.25, 0.33,
    0.38, 0.28, 0.50, 0.30, 0.22, 0.35, 0.45, 0.26, 0.30, 0.40, 0.18, 0.32, 0.50, 0.30, 0.28, 0.45, 0.35, 0.25, 0.20, 0.38,
    0.48, 0.30, 0.30, 0.40, 0.25, 0.35, -0.19, 0.30, 0.35, 0.25, 0.22, 0.38, 0.40, 0.28, 0.55, 0.32, 0.28, 0.40, 0.20, 0.30,
    0.35, 0.25, 0.15, 0.38, 0.52, 0.30, 0.30, 0.42, 0.40, 0.20, 0.25, 0.45, 0.84, 0.82, 0.80, 0.35, 0.59, 0.40, 0.30, 0.22,
    0.20, 0.40, 0.73, 0.35, 0.64, 0.30, 0.25, 0.45, 0.50, 0.28, 0.30, 0.55, 0.85, 0.40, 0.45, 0.30, 0.22, 0.15, -0.14, 0.30,
    0.35, 0.22, 0.25, 0.40, 0.45, 0.30, 0.30, 0.42, 0.50, 0.35, 0.20, 0.30, 0.38, 0.25, 0.28, 0.35, 0.45, 0.30, 0.25, 0.20,
    -0.06, 0.25, 0.30, 0.22, 0.22, 0.28, 0.28, 0.20, 0.20, 0.26, 0.32, 0.24, 0.25, 0.30, 0.18, 0.26, 0.30, 0.20, 0.22, 0.30,
    0.28, 0.35, 0.15, 0.28, 0.51, 0.30, 0.20, 0.40, 0.35, 0.22, 0.10, 0.30, 0.83, 0.35, 0.25, 0.38, 0.40, 0.25, 0.15, 0.30,
    0.30, 0.22, -0.19, 0.30, 0.35, 0.25, 0.22, 0.38, 0.45, 0.30, 0.18, 0.35, 0.55, 0.25, 0.30, 0.40, 0.20, 0.32, 0.40, 0.25,
    0.25, 0.32, 0.35, 0.22, 0.12, 0.28, 0.30, 0.36, 0.42, 0.25, 0.20, 0.32, 0.28, 0.22, 0.38, 0.30, 0.15, 0.26, 0.30, 0.40,
    -0.19, 0.28, 0.35, 0.22, 0.25, 0.40, 0.45, 0.28, 0.20, 0.35, 0.30, 0.20, 0.50, 0.30, 0.15, 0.35, 0.38, 0.22, 0.25, 0.40,
    0.30, 0.45, 0.69, 0.30, -0.19, 0.40, -0.19, 0.25, 0.40, 0.30, 0.20, 0.45, 0.50, 0.28, 0.25, 0.40, 0.72, 0.35, 0.30, 0.20,
    0.20, 0.38, 0.45, 0.25, -0.19, 0.40, 0.76, 0.35, 0.66, 0.25, 0.30, 0.45, 0.50, 0.30, 0.15, 0.40, -0.19, 0.30, 0.40, 0.22,
    0.30, 0.42, 0.20, 0.35, 0.61, 0.30, 0.25, 0.40, 0.35, 0.22, 0.10, 0.30, 0.40, 0.25, 0.22, 0.35, 0.30, 0.20, 0.18, 0.32,
    0.30, 0.22, -0.07, 0.30, 0.40, 0.52, 0.58, 0.45, 0.35, 0.25, 0.20, 0.15, 0.25, 0.18, 0.12, 0.22, 0.22, 0.15, 0.18, 0.24,
    0.25, 0.18, 0.15, 0.26, 0.22, 0.12, 0.10, 0.25, 0.30, 0.18, 0.20, 0.45, 0.71, 0.25, 0.15, 0.40, 1.25, 0.85, 0.97, 1.10]

fluxes = [f_006327, f_009705, f_015347, f_019872, f_021470,
          f_023170, f_023215, f_023527, f_028933]

ylims = [(-0.19, 1.2), (0, 3.22), (-0.2, 2.0), (-0.19, 2.0), (0.49, 2.99),
         (1.02, 5.02), (-0.8, 5.04), (-0.37, 4.53), (-0.19, 1.19)]
yticks = [[0.0, 0.5, 1.0], [0, 2], [0, 1, 2], [0, 1, 2], [1, 2, 3],
          [2, 4], [0, 2, 4], [0, 2, 4], [0.0, 0.5, 1.0]]

fig, axes = plt.subplots(9, 1, figsize=(8, 10.7533), sharex=True)
fig.subplots_adjust(left=0.059, right=0.9925, top=0.9969, bottom=0.0498, hspace=0.2)

for i, ax in enumerate(axes):
    flux = np.array(fluxes[i])
    lam = lam_start + lam_step * np.arange(len(flux))
    ax.step(lam, flux, where='mid', color='k', lw=1.0)
    for w in line_waves:
        ax.axvline(w, color='#999999', ls='--', lw=1.3)
    ax.set_ylim(*ylims[i])
    ax.set_yticks(yticks[i])
    ax.text(0.061, 0.876, names[i], transform=ax.transAxes, fontsize=7.5, va='center')
    ax.text(0.061, 0.78, 'z = %.2f' % redshifts[i], transform=ax.transAxes,
            fontsize=7.5, va='center')

# line names on the top panel
trans = mtransforms.blended_transform_factory(axes[0].transData, axes[0].transAxes)
for w, lab in zip(line_waves, line_names):
    axes[0].text(w + 1.5, 0.87, lab, transform=trans, fontsize=8.5, va='center')

axes[-1].set_xlim(1400, 1950)
axes[-1].set_xticks([1400, 1500, 1600, 1700, 1800, 1900])
axes[-1].set_xlabel(r'$\lambda$ (Angstrom)', fontsize=12)
axes[-1].xaxis.label.set_x(0.487)

fig.text(0.0154, 0.524, r'F (He II) [x 10$^{-18}$ erg/s/cm$^2$/$\rm\AA$]',
         rotation=90, va='center', ha='center', fontsize=13)

fig.savefig('out.png', dpi=150)
